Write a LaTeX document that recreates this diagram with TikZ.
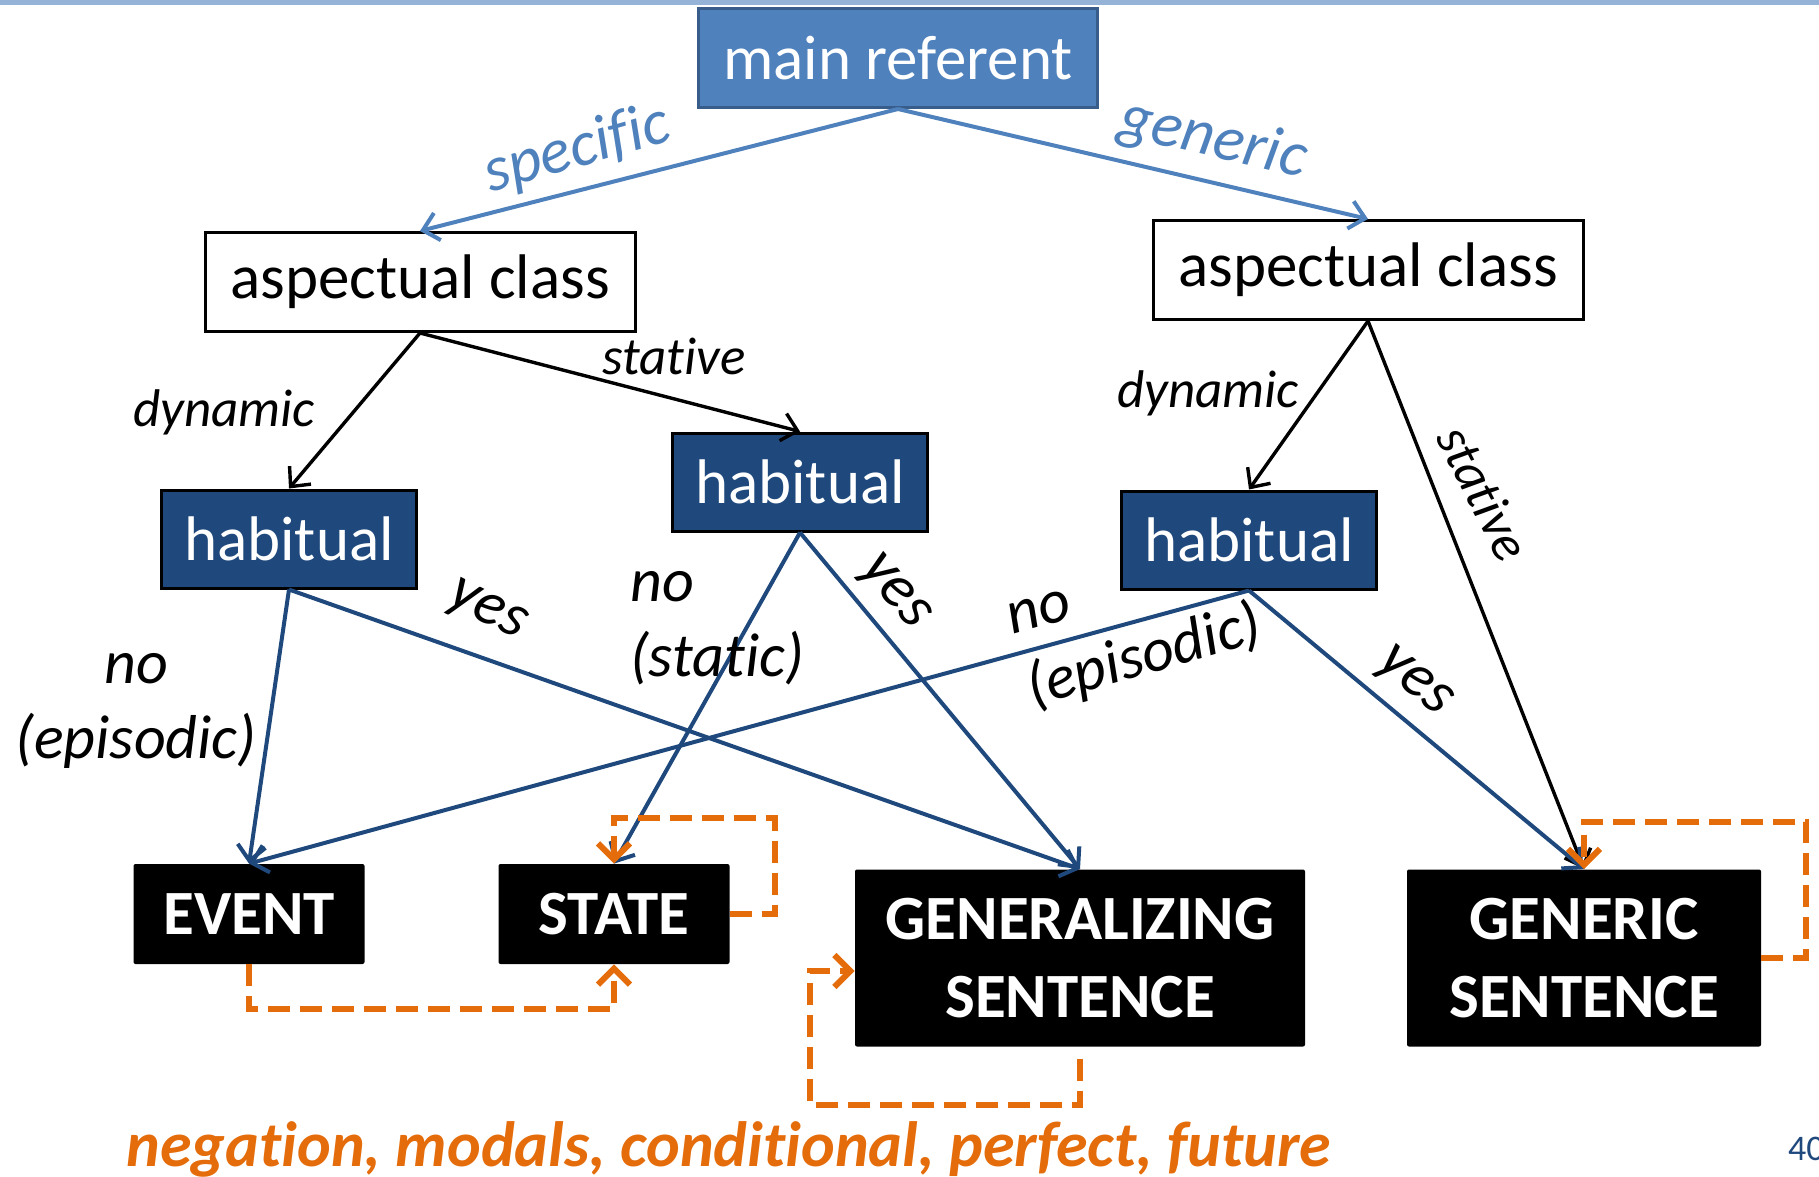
\documentclass[tikz,border=0pt]{standalone}
\usepackage{fontspec}
\setmainfont[RawFeature={-liga;-clig;-calt;-ccmp;-dlig}]{Carlito}
\usetikzlibrary{arrows.meta}
\definecolor{refblue}{HTML}{4F81BD}
\definecolor{refedge}{HTML}{385D8A}
\definecolor{navy}{HTML}{1F497D}
\definecolor{coerceor}{HTML}{E46C0A}
\definecolor{barblue}{HTML}{95B3D7}

\tikzstyle{big} =[font=\fontsize{31.5}{39}\selectfont]
\tikzstyle{root} =[big, shape=rectangle, draw=refedge, line width=1.5pt,
fill=refblue, text=white, minimum width=199.5pt, minimum height=49.5pt]
\tikzstyle{aspect} =[big, shape=rectangle, draw, line width=1.5pt,
fill=white, minimum width=215pt, minimum height=49.5pt]
\tikzstyle{habit} =[big, shape=rectangle, draw, line width=1.5pt,
fill=navy, text=white, minimum width=127.5pt, minimum height=49pt]
\tikzstyle{leaf} =[font=\fontsize{31.5}{39}\selectfont\bfseries, shape=rectangle,
fill=black, text=white, rounded corners=1pt, align=center]
\tikzstyle{lab} =[font=\fontsize{26.5}{32}\selectfont\itshape]
\tikzstyle{ans} =[font=\fontsize{31}{37.5}\selectfont\itshape]
\tikzstyle{light} =[draw=refblue, line width=2pt,
-{Straight Barb[length=7.5pt,width=14pt]}]
\tikzstyle{plain} =[draw=black, line width=1.7pt,
-{Straight Barb[length=7.5pt,width=14pt]}]
\tikzstyle{dark} =[draw=navy, line width=2pt,
-{Straight Barb[length=7.5pt,width=14pt]}]
\tikzstyle{coerce} =[draw=coerceor, line width=3pt, dash pattern=on 11pt off 5pt,
-{Straight Barb[length=8pt,width=16pt]}]

\begin{document}
\begin{tikzpicture}[x=0.5pt, y=-0.5pt]
\useasboundingbox (0,0) rectangle (1819,1177);
\fill[barblue] (0,0) rectangle (1819,5);

\node[root] (ref) at (898,58) {main referent};
\node[aspect] (asl) at (420,282) {aspectual class};
\node[aspect] (asr) at (1368,270) {aspectual class};
\node[habit] (habl) at (289,539) {habitual};
\node[habit] (habm) at (800,482) {habitual};
\node[habit] (habr) at (1249,540) {habitual};
\node[leaf, minimum width=115.5pt, minimum height=50pt] (event) at (249,914) {EVENT};
\node[leaf, minimum width=115.5pt, minimum height=50pt] (state) at (614,914) {STATE};
\node[leaf, minimum width=225pt, minimum height=88.5pt] (gen) at (1080,958)
{GENERALIZING\\SENTENCE};
\node[leaf, minimum width=177pt, minimum height=88.5pt] (generic) at (1584,958)
{GENERIC\\SENTENCE};

\draw[light] (ref.south) -- (asl.north);
\draw[light] (ref.south) -- (asr.north);
\node[big, text=refblue, font=\fontsize{32}{38}\selectfont\itshape, rotate=16]
(spec) at (577,150) {specific};
\node[big, text=refblue, font=\fontsize{32}{38}\selectfont\itshape, rotate=-13]
(gnrc) at (1213,140) {generic};

\draw[plain] (asl.south) -- (habl.north);
\draw[plain] (asl.south) -- (habm.north);
\draw[plain] (asr.south) -- (habr.north);
\draw[plain] (asr.south) -- (generic.north);
\node[lab] (dynl) at (224,412) {dynamic};
\node[lab] (statl) at (674,356) {stative};
\node[lab] (dynr) at (1208,393) {dynamic};
\node[lab, rotate=-63] (statr) at (1484,493) {stative};

\draw[dark] (habl.south) -- (event.north);
\draw[dark] (habl.south) -- (gen.north);
\draw[dark] (habm.south) -- (state.north);
\draw[dark] (habm.south) -- (gen.north);
\draw[dark] (habr.south) -- (event.north);
\draw[dark] (habr.south) -- (generic.north);
\node[ans, align=center] (nol) at (136,711) {no\\(episodic)};
\node[ans, align=left] (nom) at (717,628) {no\\(static)};
\node[ans, align=left, rotate=16] (nor) at (1136,628) {no\\(episodic)};
\node[ans, rotate=-27] (yesl) at (486,612) {yes};
\node[ans, rotate=-50] (yesm) at (893,593) {yes};
\node[ans, rotate=-40] (yesr) at (1413,683) {yes};

\draw[coerce] (state.east) -| ++(45,-96) -| (state.north);
\draw[coerce] (event.south) -- ++(0,45) -| (state.south);
\draw[coerce] ([yshift=-6pt]gen.south) |- ++(-270,46) |- ([yshift=-6.5pt]gen.west);
\draw[coerce] (generic.east) -| ++(45,-136) -| (generic.north);

\node[anchor=base, text=coerceor, font=\fontsize{32}{38}\selectfont\bfseries\itshape]
(tags) at (729,1166) {negation, modals, conditional, perfect, future};
\node[anchor=west, text=navy, font=\fontsize{18}{20}\selectfont] (page) at (1781,1149) {40};
\end{tikzpicture}
\end{document}
